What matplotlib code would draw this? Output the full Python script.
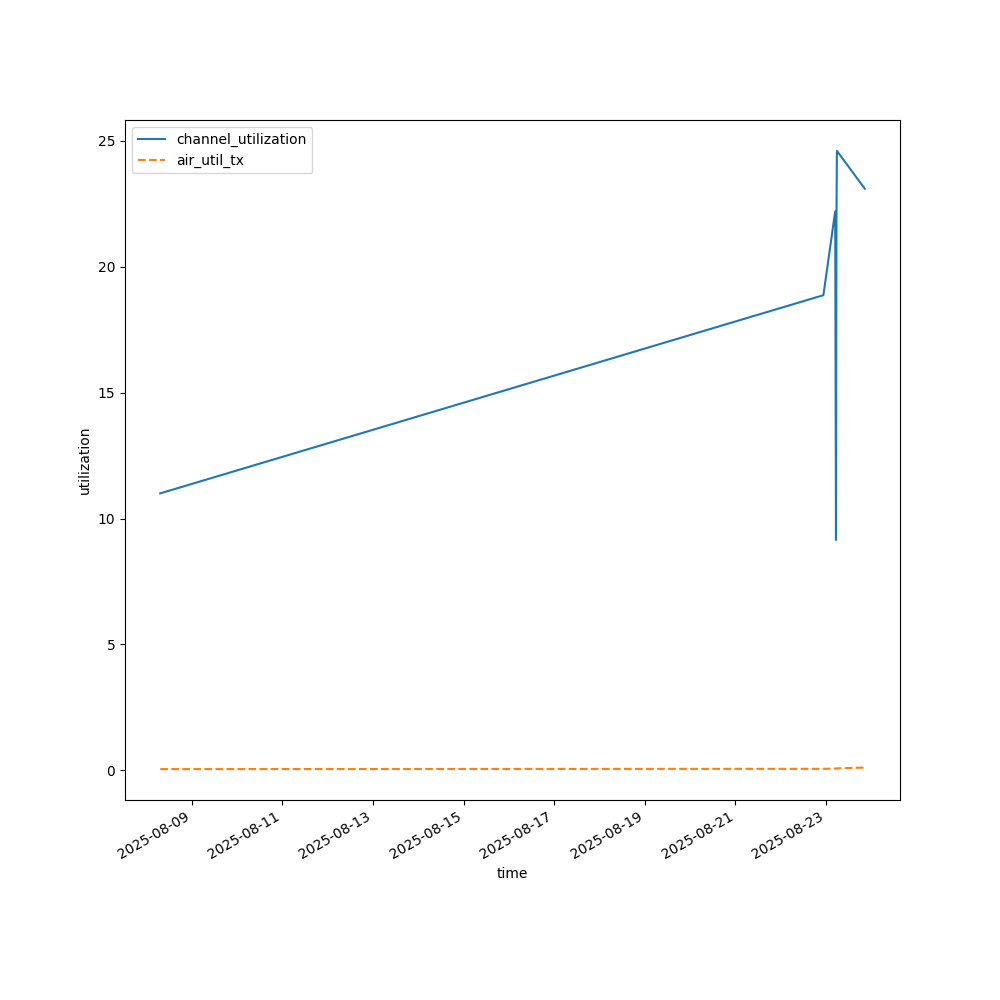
import pandas as pd
import matplotlib
matplotlib.use("Agg")
import matplotlib.pyplot as plt

times = pd.to_datetime([
    "2025-08-08 07:20", "2025-08-22 22:35", "2025-08-23 04:50",
    "2025-08-23 05:15", "2025-08-23 05:30", "2025-08-23 05:45",
    "2025-08-23 20:30",
])
channel_utilization = [11.0, 18.87, 22.2, 9.15, 21.9, 24.6, 23.1]
air_util_tx = [0.05, 0.06, 0.07, 0.07, 0.08, 0.08, 0.11]

fig, ax = plt.subplots(figsize=(10, 10), dpi=100)
ax.plot(times, channel_utilization, label="channel_utilization")
ax.plot(times, air_util_tx, linestyle="--", label="air_util_tx")
ax.set_xlabel("time")
ax.set_ylabel("utilization")
ax.legend(loc="upper left")
fig.autofmt_xdate()
fig.savefig("out.png")
